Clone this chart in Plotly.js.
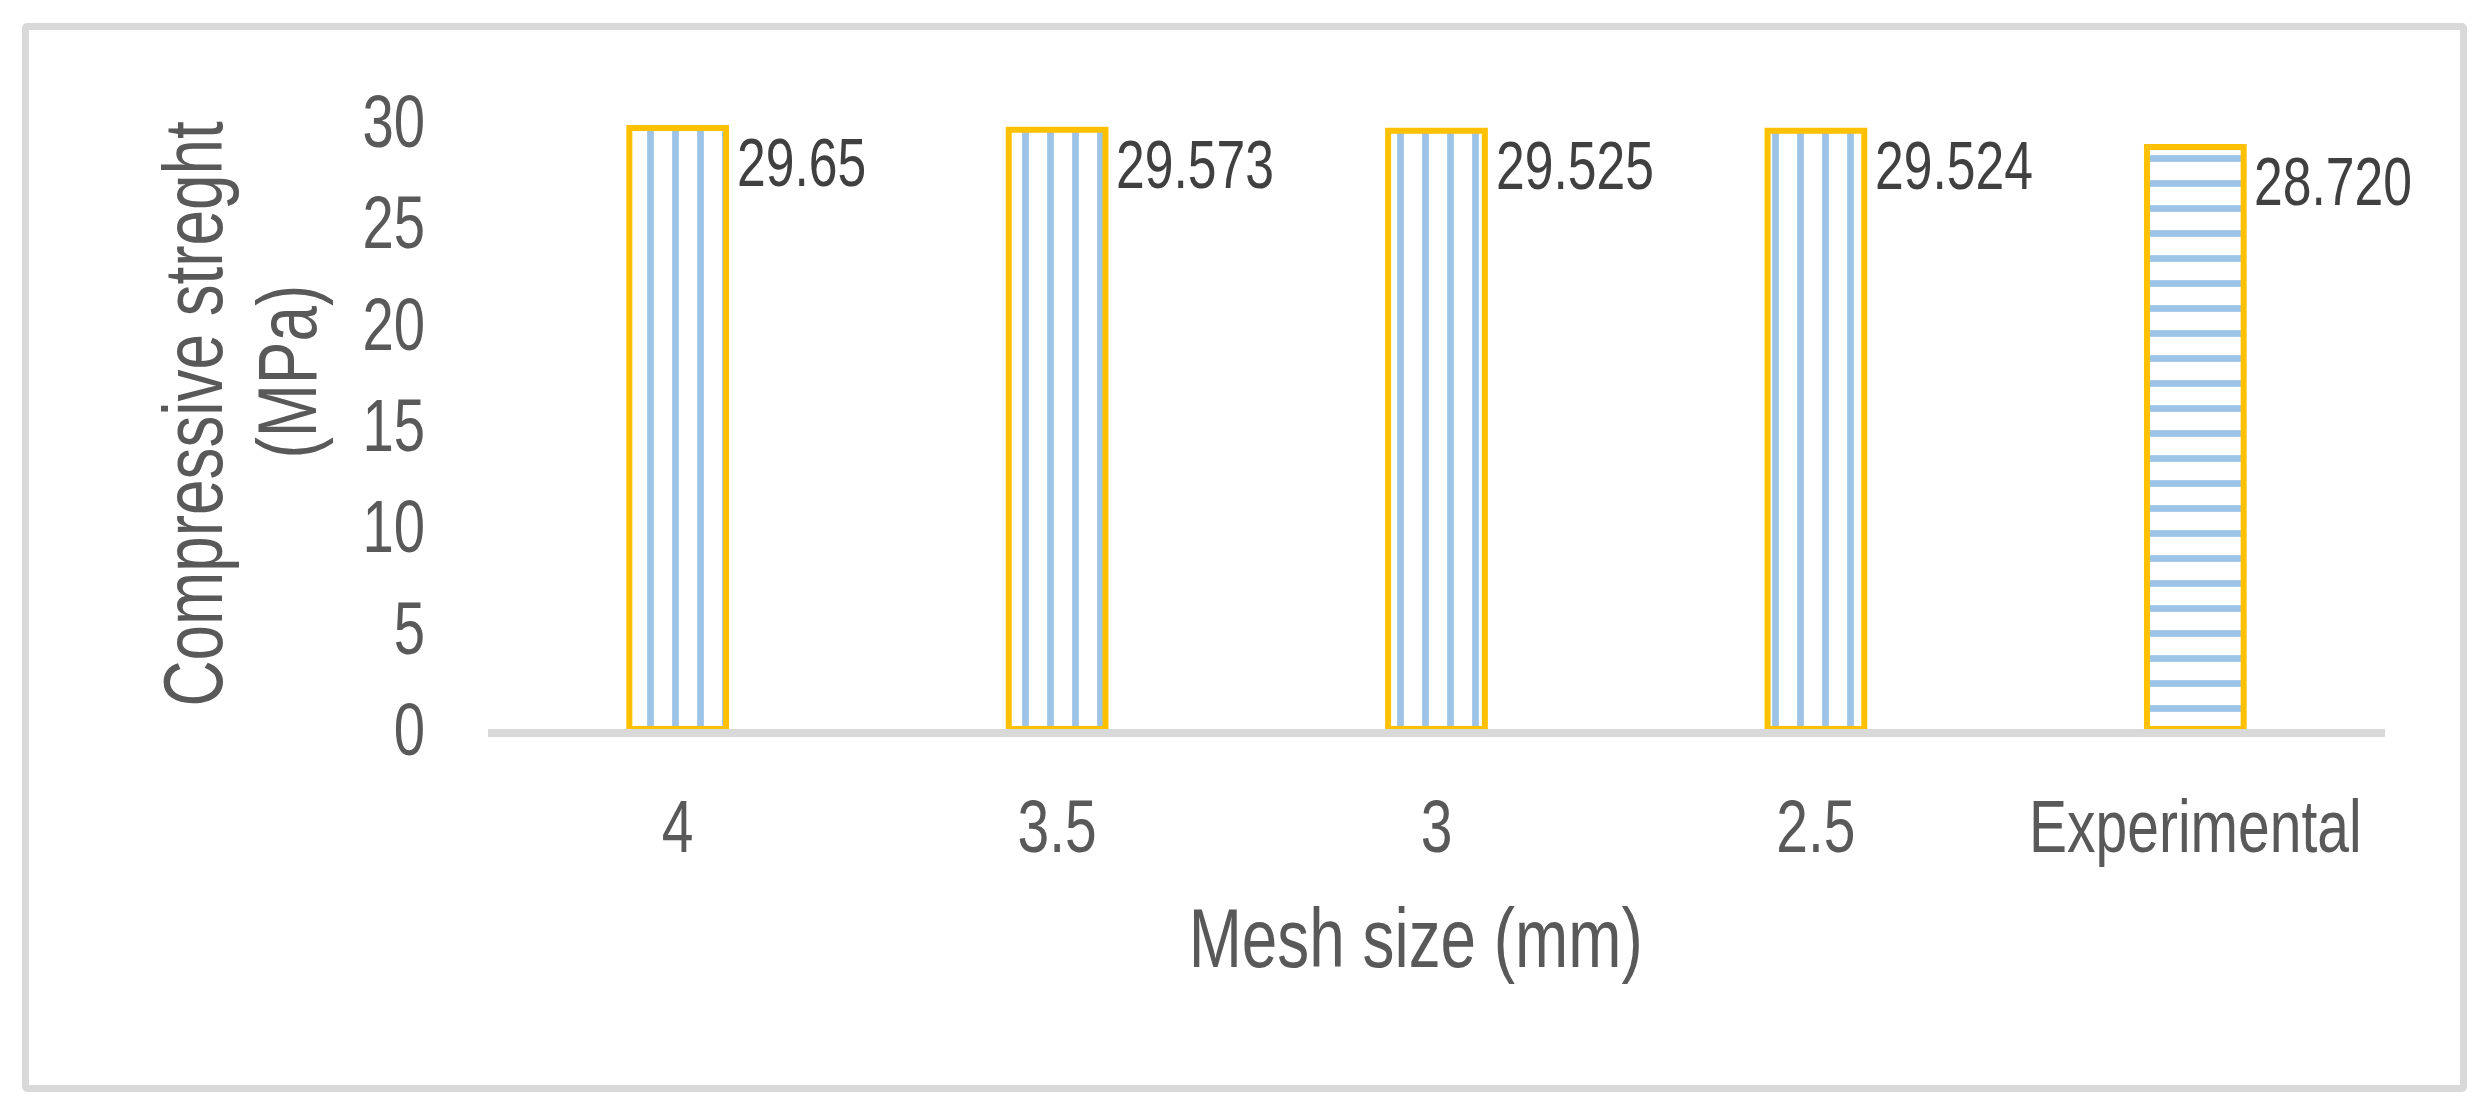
<!DOCTYPE html>
<html>
<head>
<meta charset="utf-8">
<script src="https://cdn.plot.ly/plotly-3.0.1.min.js"></script>
<style>
  body { margin: 0; background: #fff; }
  #chart { width: 2488px; height: 1119px; }
  #frame {
    position: absolute; left: 22px; top: 23px;
    width: 2431px; height: 1055px;
    border: 7.5px solid #d9d9d9; border-radius: 5px;
    pointer-events: none;
  }
</style>
</head>
<body>
<div id="chart"></div>
<div id="frame"></div>
<script>
// data
const meshSizes = ['4', '3.5', '3', '2.5', 'Experimental'];
const strength = [29.65, 29.573, 29.525, 29.524, 28.720];
const valueLabels = ['29.65', '29.573', '29.525', '29.524', '28.720'];
const yTicks = [0, 5, 10, 15, 20, 25, 30];
const hatch = ['|', '|', '|', '|', '-'];

const FONT = "'Liberation Sans', Arial, sans-serif";
const GREY = '#595959';
// the original uses a narrow face; squeeze the glyphs horizontally to match
const NARROW = 0.76;

const trace = {
  type: 'bar',
  x: meshSizes,
  y: strength,
  width: 0.255,
  hoverinfo: 'skip',
  marker: {
    color: '#ffffff',
    line: { color: '#FFC000', width: 6 },
    pattern: {
      shape: hatch,
      fgcolor: '#9DC3E6',
      bgcolor: '#ffffff',
      fgopacity: 1,
      size: 25,
      solidity: 0.27,
      fillmode: 'replace'
    }
  }
};

// value labels sit just right of each bar (x given as category index)
const labels = strength.map((v, i) => ({
  x: i, y: v, xref: 'x', yref: 'y',
  text: valueLabels[i], showarrow: false,
  xanchor: 'left', yanchor: 'middle', align: 'left',
  xshift: 57, yshift: -34,
  font: { family: FONT, size: 68, color: '#404040' }
}));

// axis titles as annotations (y title is two separate lines, tight spacing)
const titles = [
  { text: 'Mesh size (mm)', x: 0, y: 0, xshift: 927, yshift: -209, textangle: 0 },
  { text: 'Compressive streght', x: 0, y: 0, xshift: -295, yshift: 315, textangle: -90 },
  { text: '(MPa)', x: 0, y: 0, xshift: -201, yshift: 357, textangle: -90 }
].map(a => Object.assign(a, {
  xref: 'paper', yref: 'paper', showarrow: false,
  xanchor: 'center', yanchor: 'middle',
  font: { family: FONT, size: 84, color: GREY }
}));

const layout = {
  width: 2488,
  height: 1119,
  margin: { l: 488, r: 103, t: 121, b: 390 },
  paper_bgcolor: '#ffffff',
  plot_bgcolor: '#ffffff',
  showlegend: false,
  font: { family: FONT, color: GREY },
  xaxis: {
    type: 'category',
    range: [-0.5, 4.5],
    showline: true, linecolor: '#d9d9d9', linewidth: 8,
    showgrid: false, zeroline: false, ticks: '',
    ticklabelstandoff: 25,
    tickfont: { family: FONT, size: 75, color: GREY }
  },
  yaxis: {
    range: [0, 30],
    tickvals: yTicks,
    ticktext: yTicks.map(String),
    showline: false, showgrid: false, zeroline: false, ticks: '',
    ticklabelstandoff: 62,
    tickfont: { family: FONT, size: 74, color: GREY }
  },
  annotations: labels.concat(titles)
};

Plotly.newPlot('chart', [trace], layout, { staticPlot: true }).then(gd => {
  gd.querySelectorAll('text').forEach(t => {
    const w = t.getComputedTextLength();
    if (w > 0) {
      t.setAttribute('textLength', (w * NARROW).toFixed(1));
      t.setAttribute('lengthAdjust', 'spacingAndGlyphs');
    }
  });
});
</script>
</body>
</html>
